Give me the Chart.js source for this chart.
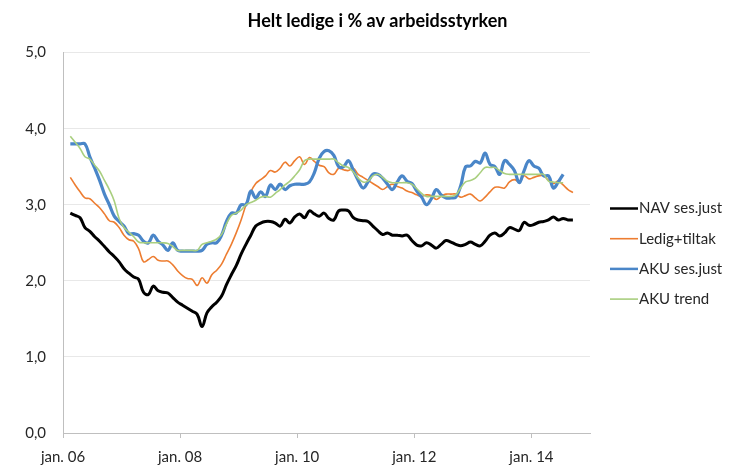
<!DOCTYPE html>
<html>
<head>
<meta charset="utf-8">
<script src="https://cdn.jsdelivr.net/npm/chart.js@4.4.1/dist/chart.umd.min.js"></script>
<style>
  html, body { margin: 0; padding: 0; background: #ffffff; }
  #wrap { width: 733px; height: 466px; position: relative; }
</style>
</head>
<body>
<div id="wrap"><canvas id="c" width="733" height="466"></canvas></div>
<script>
// ---- Data (monthly, Feb 2006 onwards; x measured in months from jan. 06) ----
const chartTitle = 'Helt ledige i % av arbeidsstyrken';
const seriesNames = ['NAV ses.just', 'Ledig+tiltak', 'AKU ses.just', 'AKU trend'];
const firstMonth = 1;          // first observation = feb. 06 (month 1 after jan. 06)
const tickValues = [0, 24, 48, 72, 96];
const tickLabels = ['jan. 06', 'jan. 08', 'jan. 10', 'jan. 12', 'jan. 14'];
const yTicks = [0, 1, 2, 3, 4, 5];

const navSesJust = [
  2.89, 2.86, 2.83, 2.70, 2.65, 2.58, 2.52, 2.45, 2.38, 2.32,
  2.25, 2.16, 2.10, 2.05, 2.02, 1.85, 1.82, 1.93, 1.87, 1.85,
  1.84, 1.78, 1.72, 1.68, 1.64, 1.60, 1.56, 1.40, 1.58, 1.66,
  1.72, 1.80, 1.95, 2.08, 2.20, 2.35, 2.48, 2.60, 2.72, 2.76,
  2.78, 2.78, 2.76, 2.72, 2.81, 2.76, 2.84, 2.88, 2.83, 2.92,
  2.88, 2.85, 2.89, 2.82, 2.80, 2.92, 2.93, 2.92, 2.83, 2.80,
  2.79, 2.78, 2.72, 2.66, 2.61, 2.63, 2.60, 2.60, 2.59, 2.60,
  2.53, 2.47, 2.46, 2.50, 2.47, 2.43, 2.48, 2.53, 2.51, 2.48,
  2.46, 2.48, 2.51, 2.48, 2.46, 2.52, 2.60, 2.63, 2.59, 2.63,
  2.70, 2.68, 2.66, 2.77, 2.73, 2.74, 2.77, 2.78, 2.80, 2.84,
  2.80, 2.82, 2.80, 2.80
];
const ledigTiltak = [
  3.36, 3.26, 3.17, 3.09, 3.08, 3.02, 2.96, 2.88, 2.79, 2.77,
  2.70, 2.60, 2.54, 2.52, 2.42, 2.25, 2.28, 2.32, 2.27, 2.26,
  2.26, 2.21, 2.13, 2.07, 2.03, 2.02, 1.94, 2.04, 1.97, 2.08,
  2.14, 2.22, 2.35, 2.48, 2.63, 2.80, 3.00, 3.17, 3.28, 3.33,
  3.38, 3.45, 3.43, 3.48, 3.56, 3.51, 3.58, 3.63, 3.53, 3.62,
  3.57, 3.52, 3.50, 3.42, 3.40, 3.48, 3.46, 3.45, 3.48, 3.40,
  3.36, 3.32, 3.28, 3.24, 3.20, 3.24, 3.27, 3.24, 3.22, 3.18,
  3.16, 3.13, 3.11, 3.13, 3.12, 3.07, 3.11, 3.14, 3.14, 3.14,
  3.10, 3.12, 3.14, 3.09, 3.05, 3.10, 3.17, 3.23, 3.23, 3.22,
  3.30, 3.33, 3.30, 3.38, 3.34, 3.36, 3.38, 3.38, 3.32, 3.28,
  3.31, 3.26, 3.20, 3.16
];
const akuSesJust = [
  3.80, 3.80, 3.80, 3.80, 3.63, 3.48, 3.32, 3.14, 3.00, 2.85,
  2.78, 2.72, 2.62, 2.62, 2.60, 2.52, 2.50, 2.60, 2.52, 2.47,
  2.40, 2.50, 2.40, 2.39, 2.39, 2.39, 2.39, 2.40, 2.48, 2.50,
  2.50, 2.60, 2.78, 2.89, 2.89, 3.00, 3.00, 3.18, 3.09, 3.17,
  3.11, 3.26, 3.20, 3.27, 3.20, 3.25, 3.27, 3.27, 3.27, 3.30,
  3.42, 3.61, 3.70, 3.71, 3.65, 3.50, 3.50, 3.58, 3.45, 3.32,
  3.22, 3.30, 3.40, 3.40, 3.35, 3.27, 3.20, 3.30, 3.38, 3.31,
  3.28, 3.18, 3.10, 3.00, 3.08, 3.20, 3.13, 3.09, 3.09, 3.10,
  3.25, 3.50, 3.51, 3.57, 3.55, 3.68, 3.53, 3.50, 3.40, 3.58,
  3.53, 3.45, 3.29, 3.45, 3.58, 3.51, 3.48, 3.38, 3.38, 3.22,
  3.30, 3.40
];
const akuTrend = [
  3.90, 3.82, 3.74, 3.63, 3.60, 3.52, 3.44, 3.32, 3.20, 3.05,
  2.82, 2.70, 2.64, 2.58, 2.51, 2.50, 2.50, 2.50, 2.50, 2.50,
  2.49, 2.45, 2.40, 2.40, 2.40, 2.40, 2.40, 2.48, 2.50, 2.52,
  2.55, 2.61, 2.75, 2.86, 2.89, 2.93, 3.00, 3.03, 3.06, 3.10,
  3.11, 3.10, 3.15, 3.20, 3.26, 3.31, 3.38, 3.46, 3.58, 3.60,
  3.60, 3.60, 3.60, 3.60, 3.60, 3.55, 3.51, 3.49, 3.43, 3.35,
  3.30, 3.31, 3.38, 3.40, 3.36, 3.31, 3.29, 3.29, 3.29, 3.29,
  3.27, 3.21, 3.15, 3.11, 3.11, 3.11, 3.11, 3.11, 3.11, 3.13,
  3.22, 3.30, 3.32, 3.35, 3.42, 3.49, 3.49, 3.49, 3.45, 3.41,
  3.40, 3.40, 3.40, 3.40, 3.40, 3.40, 3.40, 3.40, 3.31, 3.30,
  3.29, 3.29
];

const colors = ['#000000', '#ED7D31', '#4A86C8', '#A9CF7F'];
const widths = [3, 1.6, 3.2, 1.6];

function toPoints(arr) {
  // each monthly value sits in the middle of its month on the date axis
  return arr.map((v, i) => ({ x: firstMonth + i + 0.5, y: v }));
}

const seriesValues = [navSesJust, ledigTiltak, akuSesJust, akuTrend];
const datasets = seriesValues.map((arr, k) => ({
  label: seriesNames[k],
  data: toPoints(arr),
  borderColor: colors[k],
  backgroundColor: colors[k],
  borderWidth: widths[k],
  pointRadius: 0,
  tension: 0.4,
  fill: false,
  order: 4 - k
}));

const FONT = 'Lato, "Open Sans", "Liberation Sans", sans-serif';
Chart.defaults.font.family = FONT;

const sideLegend = {
  id: 'sideLegend',
  afterDraw(chart) {
    const ctx = chart.ctx;
    const ca = chart.chartArea;
    const n = chart.data.datasets.length;
    const gap = 30.2;
    const cy = (ca.top + ca.bottom) / 2 + 11;
    const x0 = ca.right + 20;
    ctx.save();
    chart.data.datasets.forEach((ds, k) => {
      const y = cy + (k - (n - 1) / 2) * gap;
      ctx.strokeStyle = ds.borderColor;
      ctx.lineWidth = Math.min(ds.borderWidth, 2.5);
      ctx.beginPath();
      ctx.moveTo(x0, y);
      ctx.lineTo(x0 + 28, y);
      ctx.stroke();
      ctx.fillStyle = '#262626';
      ctx.font = '15px ' + FONT;
      ctx.textBaseline = 'middle';
      ctx.textAlign = 'left';
      ctx.fillText(ds.label, x0 + 29, y);
    });
    ctx.restore();
  }
};

new Chart(document.getElementById('c'), {
  type: 'line',
  data: { datasets },
  plugins: [sideLegend],
  options: {
    responsive: false,
    animation: false,
    layout: { padding: { left: 22, right: 0, top: 0, bottom: 0 } },
    plugins: {
      legend: { display: false },
      tooltip: { enabled: false },
      title: {
        display: true,
        text: chartTitle,
        color: '#000000',
        font: { size: 18, weight: 'bold', family: FONT },
        padding: { top: 10, bottom: 21 },
        align: 'center'
      }
    },
    scales: {
      x: {
        type: 'linear',
        min: 0,
        max: 108,
        afterBuildTicks: (s) => { s.ticks = tickValues.map(v => ({ value: v })); },
        afterFit: (s) => { s.height = 33; },
        ticks: {
          callback: (v) => { const j = tickValues.indexOf(v); return j >= 0 ? tickLabels[j] : ''; },
          color: '#262626',
          font: { size: 15 },
          padding: 10,
          maxRotation: 0,
          autoSkip: false
        },
        grid: {
          drawOnChartArea: false,
          drawTicks: true,
          tickLength: 5,
          tickColor: '#BFBFBF'
        },
        border: { display: true, color: '#BFBFBF', width: 1 }
      },
      y: {
        min: 0,
        max: 5,
        afterBuildTicks: (s) => { s.ticks = yTicks.map(v => ({ value: v })); },
        afterFit: (s) => { s.width = 41; },
        ticks: {
          callback: (v) => v.toFixed(1).replace('.', ','),
          color: '#262626',
          font: { size: 15 },
          padding: 17
        },
        grid: {
          color: '#E8E8E8',
          drawTicks: false
        },
        border: { display: true, color: '#BFBFBF', width: 1 }
      },
      legendSpace: {
        position: 'right',
        display: true,
        afterFit: (s) => { s.width = 143; },
        ticks: { display: false },
        grid: { display: false, drawTicks: false },
        border: { display: false }
      }
    }
  }
});
</script>
</body>
</html>
